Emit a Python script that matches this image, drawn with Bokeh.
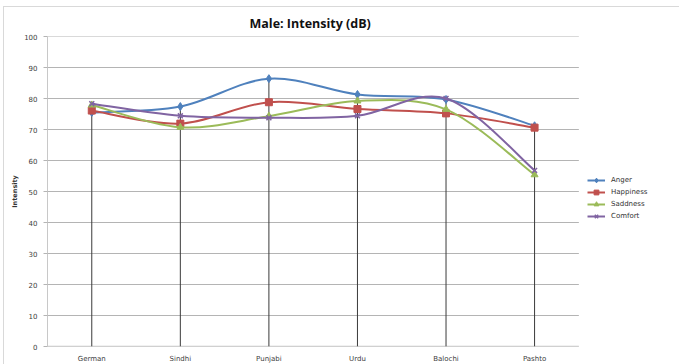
from bokeh.plotting import figure
from bokeh.models import (ColumnDataSource, FixedTicker, Legend, LegendItem, Title)
from bokeh.embed import file_html
from bokeh.resources import INLINE

# Mean male intensity (dB) per language and emotion
languages = ["German", "Sindhi", "Punjabi", "Urdu", "Balochi", "Pashto"]
anger = [75.5, 77.4, 86.4, 81.3, 79.7, 71.2]
happiness = [76.1, 71.9, 78.8, 76.6, 75.2, 70.6]
saddness = [77.9, 70.7, 74.3, 79.2, 76.5, 55.4]
comfort = [78.3, 74.4, 73.8, 74.4, 80.0, 56.8]
y_ticks = list(range(0, 101, 10))

series = [
    ("Anger", anger, "#4F81BD", "diamond", 8),
    ("Happiness", happiness, "#C0504D", "square", 7),
    ("Saddness", saddness, "#9BBB59", "triangle", 7),
    ("Comfort", comfort, "#8064A2", "x", 7),
]

xs = list(range(len(languages)))
x_lo, x_hi = -0.5, len(languages) - 0.5          # extent of the plotting area
# the frame runs on to the right edge to leave room for the legend
PX_PER_CAT = 88
FRAME_W = 629

p = figure(width=676, height=358, x_range=(x_lo, x_lo + FRAME_W / PX_PER_CAT),
           y_range=(0, 100), output_backend="svg", toolbar_location=None,
           min_border_left=43, min_border_right=0, min_border_top=29,
           min_border_bottom=16)
p.styles = {"margin-left": "3px", "margin-top": "6px",
            "border-left": "1px solid #d9d9d9", "border-top": "1px solid #d9d9d9"}
p.outline_line_color = None
p.background_fill_color = "white"
p.border_fill_color = "white"

p.title = Title(text="Male: Intensity (dB)", align="left", offset=202,
                text_font="Open Sans", text_font_size="12.5px",
                text_font_style="bold", text_color="#111111", standoff=9)

# horizontal gridlines across the plotting area only
p.xgrid.grid_line_color = None
p.ygrid.grid_line_color = None
p.segment(x0=[x_lo] * len(y_ticks), y0=y_ticks, x1=[x_hi] * len(y_ticks),
          y1=y_ticks, line_color="#b4b4b4", line_width=1)

# y axis
p.yaxis.ticker = FixedTicker(ticks=y_ticks)
p.yaxis.axis_label = "Intensity"
p.yaxis.axis_label_text_font = "DejaVu Sans"
p.yaxis.axis_label_text_font_size = "6.5px"
p.yaxis.axis_label_text_font_style = "bold"
p.yaxis.axis_label_text_color = "#333333"
p.yaxis.axis_label_standoff = 2
p.yaxis.major_label_text_font = "DejaVu Sans"
p.yaxis.major_label_text_font_size = "7px"
p.yaxis.major_label_text_color = "#404040"
p.yaxis.major_label_standoff = 6
p.yaxis.axis_line_color = "#c8c8c8"
p.yaxis.major_tick_line_color = "#b4b4b4"
p.yaxis.major_tick_out = 4
p.yaxis.major_tick_in = 0
p.yaxis.minor_tick_line_color = None

# x axis (its line is drawn below as a segment that stops with the grid)
p.xaxis.ticker = FixedTicker(ticks=xs)
p.xaxis.major_label_overrides = {i: name for i, name in enumerate(languages)}
p.xaxis.major_label_text_font = "DejaVu Sans"
p.xaxis.major_label_text_font_size = "7px"
p.xaxis.major_label_text_color = "#404040"
p.xaxis.major_label_standoff = 2
p.xaxis.axis_line_color = None
p.xaxis.major_tick_line_color = None
p.xaxis.minor_tick_line_color = None
p.segment(x0=[x_lo], y0=[0], x1=[x_hi], y1=[0], line_color="#c8c8c8",
          line_width=1.5)

# drop lines from the axis up to the highest value in each category
tops = [max(vals) for vals in zip(anger, happiness, saddness, comfort)]
p.segment(x0=xs, y0=[0] * len(xs), x1=xs, y1=tops, line_color="#3a3a3a",
          line_width=1)


def smooth_segments(x, y):
    """Cubic Bezier control points for a smoothed line through the points."""
    n = len(x)
    px = [x[0]] + list(x) + [x[-1]]
    py = [y[0]] + list(y) + [y[-1]]
    d = dict(x0=[], y0=[], x1=[], y1=[], cx0=[], cy0=[], cx1=[], cy1=[])
    for i in range(n - 1):
        j = i + 1
        d["x0"].append(px[j]); d["y0"].append(py[j])
        d["x1"].append(px[j + 1]); d["y1"].append(py[j + 1])
        d["cx0"].append(px[j] + (px[j + 1] - px[j - 1]) / 6)
        d["cy0"].append(py[j] + (py[j + 1] - py[j - 1]) / 6)
        d["cx1"].append(px[j + 1] - (px[j + 2] - px[j]) / 6)
        d["cy1"].append(py[j + 1] - (py[j + 2] - py[j]) / 6)
    return d


items = []
for name, vals, color, marker, size in series:
    src = ColumnDataSource(smooth_segments(xs, vals))
    p.bezier(x0="x0", y0="y0", x1="x1", y1="y1", cx0="cx0", cy0="cy0",
             cx1="cx1", cy1="cy1", source=src, line_color=color, line_width=2)
    pts = p.scatter(x=xs, y=vals, marker=marker, size=size, fill_color=color,
                    line_color=color, line_width=1.5 if marker == "x" else 1)
    # a one-point line: draws nothing on the plot, gives the legend its key
    key_line = p.line(x=xs[:1], y=vals[:1], line_color=color, line_width=2)
    items.append(LegendItem(label=name, renderers=[key_line, pts]))

legend = Legend(items=items, location=(540, 124), margin=0, padding=2,
                spacing=0, glyph_width=18, glyph_height=12, label_height=12,
                label_standoff=6, label_text_font="DejaVu Sans",
                label_text_font_size="7px", label_text_color="#333333",
                border_line_color=None, background_fill_alpha=0)
p.add_layout(legend, "center")

open("out.html", "w").write(file_html(p, INLINE))
